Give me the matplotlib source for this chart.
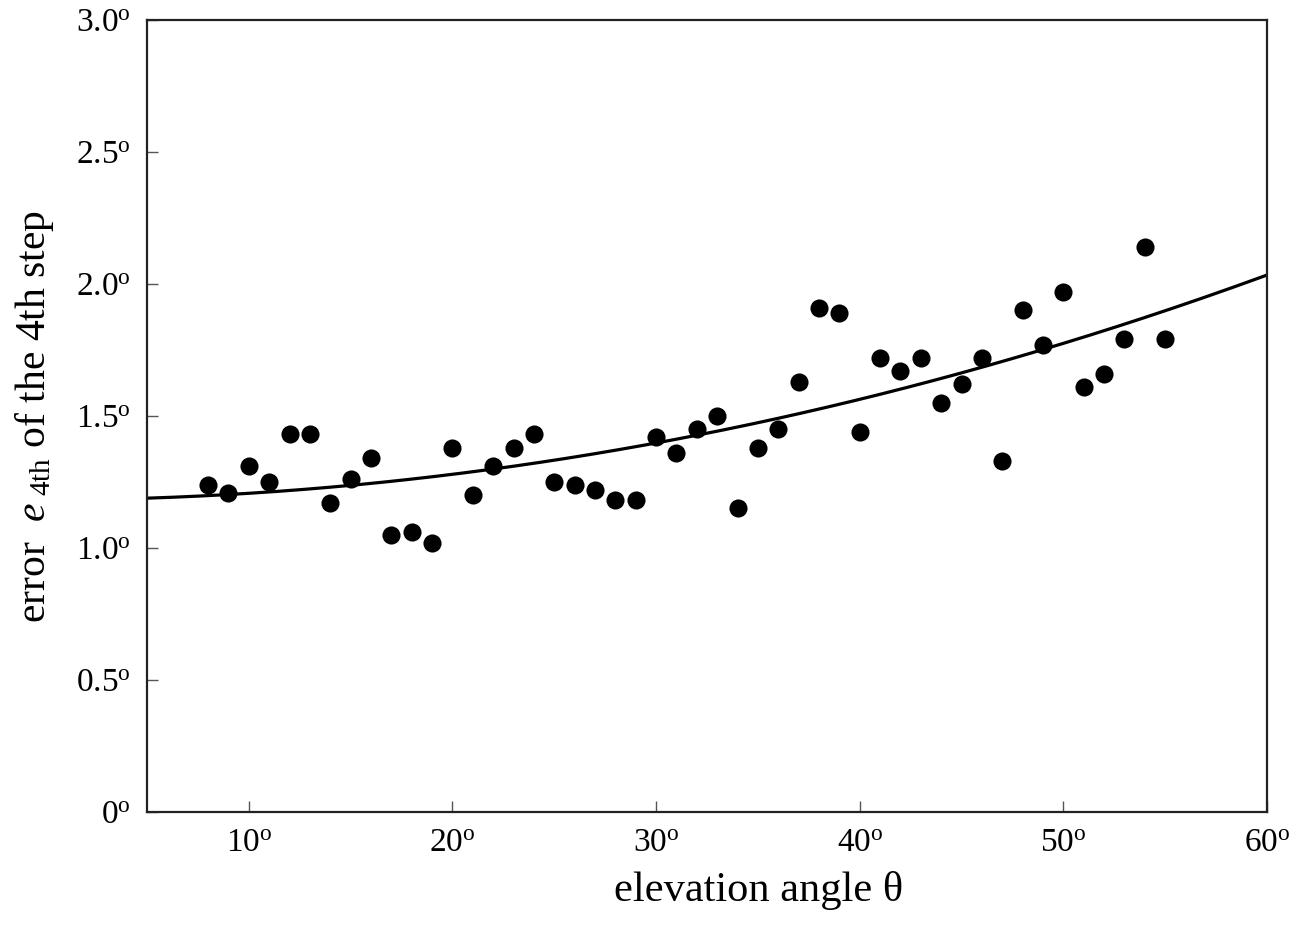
import numpy as np
import matplotlib.pyplot as plt

plt.rcParams['font.family'] = ['Liberation Serif', 'DejaVu Serif']
plt.rcParams['mathtext.fontset'] = 'custom'
plt.rcParams['mathtext.rm'] = 'Liberation Serif'
plt.rcParams['mathtext.it'] = 'Liberation Serif:italic'

# donnees
angles = [8, 9, 10, 11, 12, 13, 14, 15, 16, 17, 18, 19, 20, 21, 22, 23, 24,
          25, 26, 27, 28, 29, 30, 31, 32, 33, 34, 35, 36, 37, 38, 39, 40,
          41, 42, 43, 44, 45, 46, 47, 48, 49, 50, 51, 52, 53, 54, 55]
erreurs = [1.24, 1.21, 1.31, 1.25, 1.43, 1.43, 1.17, 1.26, 1.34, 1.05, 1.06, 1.02,
           1.38, 1.20, 1.31, 1.38, 1.43, 1.25, 1.24, 1.22, 1.18, 1.18, 1.42, 1.36,
           1.45, 1.50, 1.15, 1.38, 1.45, 1.63, 1.91, 1.89, 1.44, 1.72, 1.67, 1.72,
           1.55, 1.62, 1.72, 1.33, 1.90, 1.77, 1.97, 1.61, 1.66, 1.79, 2.14, 1.79]

# coefficients de la courbe d'ajustement (a + b*x + c*x^2)
coef_fit = [1.182, 0.00019, 0.0002335]

xticks = [10, 20, 30, 40, 50, 60]
yticks = [0, 0.5, 1.0, 1.5, 2.0, 2.5, 3.0]
xlabels = ['10$^\\mathrm{o}$', '20$^\\mathrm{o}$', '30$^\\mathrm{o}$',
           '40$^\\mathrm{o}$', '50$^\\mathrm{o}$', '60$^\\mathrm{o}$']
ylabels = ['0$^\\mathrm{o}$', '0.5$^\\mathrm{o}$', '1.0$^\\mathrm{o}$', '1.5$^\\mathrm{o}$',
           '2.0$^\\mathrm{o}$', '2.5$^\\mathrm{o}$', '3.0$^\\mathrm{o}$']

fig = plt.figure(figsize=(12.91, 9.31), dpi=100)
ax = fig.add_axes([0.1139, 0.1278, 0.8675, 0.8507])

xx = np.linspace(5, 60, 300)
yy = coef_fit[0] + coef_fit[1] * xx + coef_fit[2] * xx ** 2
ax.plot(xx, yy, color='black', lw=2.3, zorder=2)
ax.scatter(angles, erreurs, s=170, color='black', zorder=3, linewidths=0)

ax.set_xlim(5, 60)
ax.set_ylim(0, 3.0)
ax.set_xticks(xticks)
ax.set_xticklabels(xlabels)
ax.set_yticks(yticks)
ax.set_yticklabels(ylabels)
ax.tick_params(direction='in', length=8, width=1, color='#555555',
               labelsize=24, pad=12)
for sp in ax.spines.values():
    sp.set_linewidth(1.6)
    sp.set_color('#222222')

ax.set_xlabel('elevation angle θ', fontsize=30.5, labelpad=8)
ax.xaxis.set_label_coords(0.546, -0.075)
ax.set_ylabel(r'error  $\mathit{e}_{\ \mathrm{4th}}$ of the 4th step', fontsize=30, labelpad=14)

fig.savefig('out.png', dpi=100)
